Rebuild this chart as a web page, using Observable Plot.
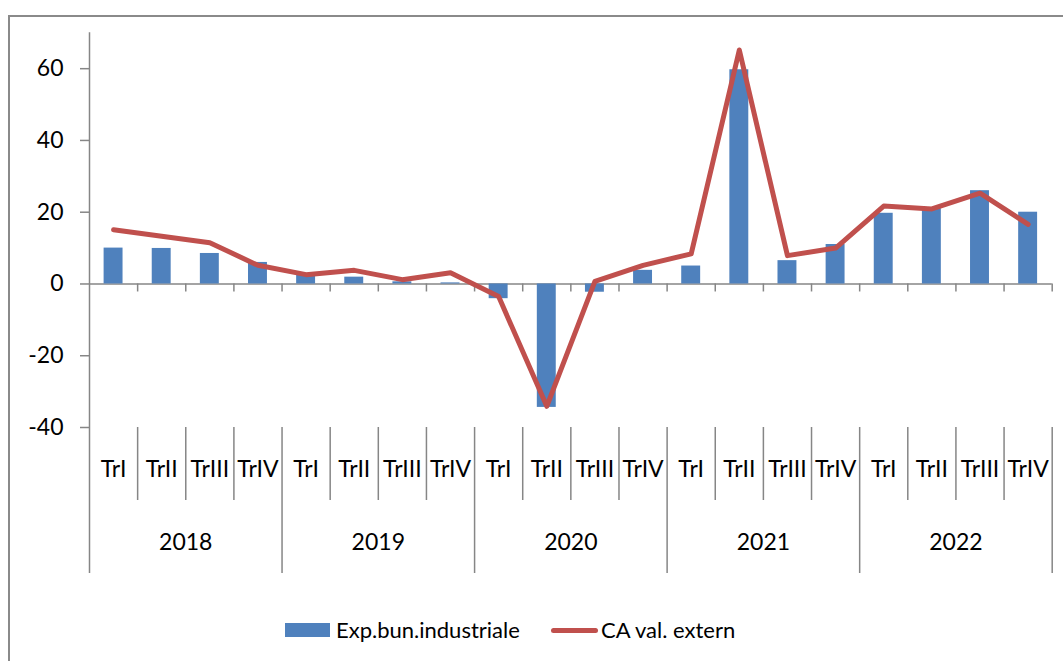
<!DOCTYPE html>
<html>
<head>
<meta charset="utf-8">
<script src="https://cdn.jsdelivr.net/npm/d3@7"></script>
<script src="https://cdn.jsdelivr.net/npm/@observablehq/plot@0.6"></script>
<style>
  html, body { margin: 0; padding: 0; background: #fff; width: 1063px; height: 661px; overflow: hidden; font-family: Lato, "Open Sans", sans-serif; }
  #frame { position: absolute; left: 8px; top: 15px; width: 1100px; height: 700px; border: 2px solid #8a8a8a; box-sizing: border-box; }
  #chart { position: absolute; left: 0; top: 0; }
  #legend { position: absolute; left: 0; top: 612px; width: 1063px; height: 36px; font-size: 22px; color: #000; }
  .sw-bar { position: absolute; left: 285px; top: 11px; width: 45px; height: 14px; background: #4F81BD; }
  .sw-line { position: absolute; left: 551px; top: 15.5px; width: 47px; height: 5px; background: #C0504D; border-radius: 3px; }
  .lab { position: absolute; top: 0; line-height: 36px; white-space: nowrap; }
</style>
</head>
<body>
<div id="frame"></div>
<div id="chart"></div>
<div id="legend">
  <div class="sw-bar"></div><div class="lab" style="left:336px">Exp.bun.industriale</div>
  <div class="sw-line"></div><div class="lab" style="left:601px">CA val. extern</div>
</div>
<script>
const years = ["2018", "2019", "2020", "2021", "2022"];
const quarters = ["TrI", "TrII", "TrIII", "TrIV"];
const expBunIndustriale = [10.0, 9.9, 8.5, 6.0, 2.8, 1.9, 0.6, 0.3, -4.1, -34.4, -2.3, 3.8, 5.0, 59.7, 6.5, 11.0, 19.7, 21.0, 26.0, 20.0];
const caValExtern = [15.1, 13.3, 11.5, 5.2, 2.6, 3.8, 1.2, 3.1, -3.5, -34.1, 0.7, 5.2, 8.4, 65.2, 7.9, 10.0, 21.7, 20.9, 25.3, 16.6];
const yTicks = [-40, -20, 0, 20, 40, 60];

const rows = [];
years.forEach((yr, yi) => quarters.forEach((q, qi) => {
  const i = yi * 4 + qi;
  rows.push({i, year: yr, quarter: q, exp: expBunIndustriale[i], ca: caValExtern[i]});
}));
const boundaries = d3.range(1, rows.length + 1);
const quarterSeps = boundaries.filter(b => b % 4 !== 0);
const yearSeps = boundaries.filter(b => b % 4 === 0);
const yearRows = years.map((yr, k) => ({year: yr, mid: k * 4 + 2}));

const gray = "#868686";
const fontSize = 23;

const plot = Plot.plot({
  width: 1063,
  height: 600,
  marginLeft: 89,
  marginRight: 11.3,
  marginTop: 32.3,
  marginBottom: 173,
  style: {fontFamily: "Lato, 'Open Sans', sans-serif", fontSize: fontSize + "px", color: "#000", background: "transparent", overflow: "visible"},
  x: {domain: [0, rows.length], axis: null},
  y: {domain: [-40, 70], axis: null},
  marks: [
    // y axis line spanning down through the category area
    Plot.ruleX([0], {stroke: gray, strokeWidth: 1.5, insetBottom: -146}),
    Plot.axisY({ticks: yTicks, tickSize: 9, tickPadding: 17, stroke: gray, strokeWidth: 1.5, fontSize, tickFormat: d => String(d).replace("-", "-"), label: null}),
    // zero line and its ticks
    Plot.ruleY([0], {stroke: gray, strokeWidth: 1.5}),
    Plot.ruleX(boundaries, {y1: 0, y2: 0, insetBottom: -8, stroke: gray, strokeWidth: 1.5}),
    // category separators
    Plot.ruleX(quarterSeps, {stroke: gray, strokeWidth: 1.5, insetTop: 394.7, insetBottom: -73}),
    Plot.ruleX(yearSeps, {stroke: gray, strokeWidth: 1.5, insetTop: 394.7, insetBottom: -146}),
    // category labels
    Plot.text(rows, {x: d => d.i + 0.5, text: "quarter", frameAnchor: "bottom", dy: 42, lineAnchor: "middle", fontSize, fill: "#000"}),
    Plot.text(yearRows, {x: "mid", text: "year", frameAnchor: "bottom", dy: 115, lineAnchor: "middle", fontSize, fill: "#000"}),
    // data
    Plot.rectY(rows, {x1: d => d.i, x2: d => d.i + 1, y1: 0, y2: "exp", insetLeft: 14.6, insetRight: 14.6, fill: "#4F81BD"}),
    Plot.lineY(rows, {x: d => d.i + 0.5, y: "ca", stroke: "#C0504D", strokeWidth: 5, strokeLinejoin: "round", strokeLinecap: "round"})
  ]
});
document.getElementById("chart").appendChild(plot);
</script>
</body>
</html>
